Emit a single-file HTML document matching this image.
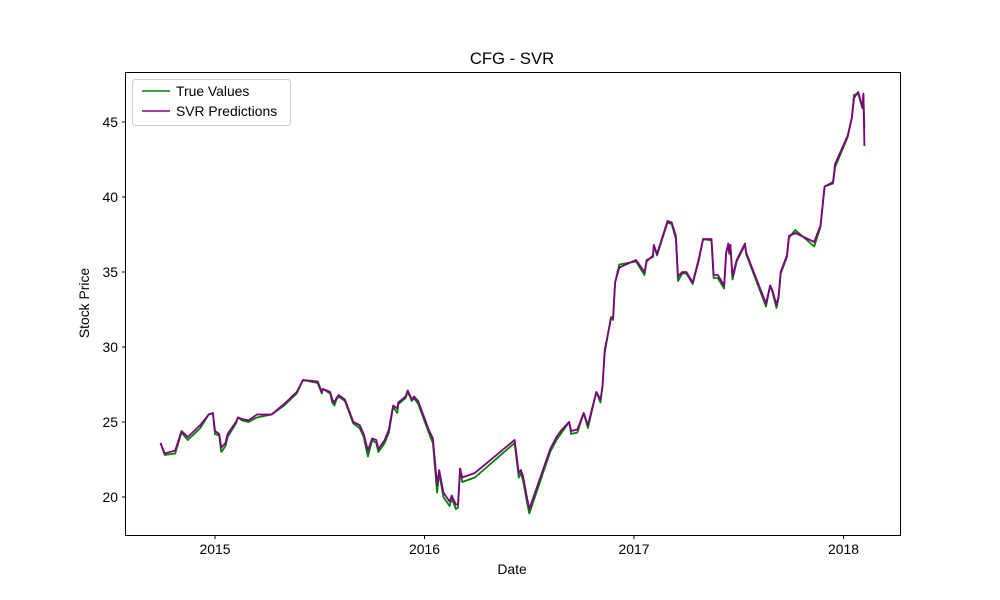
<!DOCTYPE html>
<html><head><meta charset="utf-8"><style>
body{margin:0;background:#fff;}
svg{display:block;font-family:"Liberation Sans","DejaVu Sans",sans-serif;}
</style></head><body>
<svg id="chart" width="1000" height="600">
<rect x="0" y="0" width="1000" height="600" fill="#fff"/>
<text x="512" y="64" font-size="16.7" text-anchor="middle">CFG - SVR</text>
<text x="512" y="574" font-size="13.9" text-anchor="middle">Date</text>
<text x="89" y="303" font-size="13.9" text-anchor="middle" transform="rotate(-90 89 303)">Stock Price</text>
<g id="plot"></g>
<rect x="125.5" y="72.5" width="775" height="463" fill="none" stroke="#000" stroke-width="1"/>
<g>
<rect x="132.5" y="79.5" width="158" height="46" rx="3" fill="#fff" fill-opacity="0.8" stroke="#ccc"/>
<g><line x1="142" y1="91" x2="170" y2="91" stroke="green" stroke-width="1.5"/><text x="176" y="96" font-size="13.9">True Values</text></g>
<g><line x1="142" y1="111" x2="170" y2="111" stroke="purple" stroke-width="1.5"/><text x="176" y="116" font-size="13.9">SVR Predictions</text></g>
</g>
</svg>
<script>
const dates=[2014.74,2014.76,2014.81,2014.84,2014.87,2014.90,2014.93,2014.97,2014.99,2015.00,2015.02,2015.03,2015.05,2015.06,2015.10,2015.11,2015.13,2015.16,2015.20,2015.27,2015.33,2015.39,2015.42,2015.49,2015.51,2015.515,2015.55,2015.56,2015.57,2015.58,2015.59,2015.62,2015.66,2015.69,2015.71,2015.73,2015.75,2015.77,2015.78,2015.81,2015.83,2015.85,2015.87,2015.875,2015.91,2015.92,2015.94,2015.95,2015.97,2016.02,2016.04,2016.06,2016.07,2016.09,2016.12,2016.13,2016.15,2016.16,2016.17,2016.18,2016.24,2016.43,2016.45,2016.46,2016.47,2016.49,2016.50,2016.60,2016.63,2016.65,2016.69,2016.70,2016.73,2016.76,2016.78,2016.82,2016.84,2016.85,2016.86,2016.89,2016.90,2016.91,2016.93,2017.01,2017.05,2017.06,2017.09,2017.095,2017.11,2017.16,2017.18,2017.20,2017.21,2017.23,2017.25,2017.28,2017.31,2017.33,2017.37,2017.38,2017.40,2017.43,2017.44,2017.45,2017.455,2017.46,2017.47,2017.49,2017.53,2017.535,2017.63,2017.65,2017.66,2017.68,2017.69,2017.70,2017.73,2017.74,2017.77,2017.86,2017.89,2017.91,2017.95,2017.96,2018.02,2018.04,2018.05,2018.07,2018.09,2018.095,2018.10];
const trueVals=[23.6,22.8,22.9,24.3,23.8,24.2,24.6,25.5,25.6,24.2,24.1,23.0,23.4,24.0,24.9,25.3,25.1,25.0,25.3,25.5,26.1,26.9,27.8,27.6,26.9,27.2,26.9,26.3,26.1,26.5,26.7,26.4,24.9,24.6,24.0,22.7,23.8,23.6,23.0,23.6,24.3,26.0,25.6,26.2,26.6,27.0,26.4,26.6,26.2,24.3,23.6,20.3,21.6,20.0,19.4,19.9,19.2,19.3,21.9,21.0,21.3,23.6,21.3,21.6,21.1,19.6,18.9,23.0,23.8,24.2,25.0,24.2,24.3,25.6,24.6,27.0,26.3,27.5,29.6,32.0,31.8,34.3,35.5,35.7,34.8,35.8,36.0,36.8,36.1,38.3,38.2,37.2,34.4,34.9,34.9,34.2,35.8,37.2,37.1,34.6,34.6,33.9,36.3,36.8,36.2,36.8,34.5,35.7,36.8,36.2,32.7,34.1,33.7,32.6,33.3,34.9,36.0,37.3,37.8,36.7,38.0,40.7,40.9,42.0,44.0,45.3,46.8,46.9,45.9,46.8,44.6];
const svrVals=[23.6,22.9,23.1,24.4,24.0,24.4,24.8,25.5,25.6,24.4,24.2,23.3,23.6,24.2,25.0,25.3,25.2,25.1,25.5,25.5,26.2,27.0,27.8,27.7,27.0,27.2,27.0,26.5,26.3,26.6,26.8,26.5,25.0,24.8,24.2,23.1,23.9,23.8,23.2,23.8,24.5,26.1,25.9,26.3,26.7,27.1,26.5,26.7,26.4,24.5,23.9,20.8,21.8,20.3,19.7,20.1,19.5,19.5,21.9,21.3,21.6,23.8,21.6,21.8,21.4,19.9,19.2,23.2,24.0,24.4,25.0,24.4,24.5,25.6,24.8,27.0,26.5,27.4,29.8,31.9,32.0,34.3,35.3,35.8,35.0,35.7,36.1,36.8,36.2,38.4,38.3,37.4,34.7,35.0,35.0,34.3,35.9,37.2,37.2,34.8,34.8,34.1,36.3,36.9,36.3,36.8,34.7,35.8,36.9,36.3,32.9,34.1,33.8,32.8,33.4,35.0,36.1,37.4,37.6,37.0,38.1,40.7,41.0,42.2,44.1,45.3,46.6,47.0,46.0,46.9,43.4];
const xTicks=[2015,2016,2017,2018];
const yTicks=[20,25,30,35,40,45];

const NS='http://www.w3.org/2000/svg';
function xs(d){return 215+(d-2015)*209.5;}
function ys(v){return 497-(v-20)*15;}
const plot=document.getElementById('plot');
xTicks.forEach(t=>{
  const g=document.createElementNS(NS,'g');
  
  
  const x=xs(t);
  g.innerHTML=`<line x1="${x}" y1="535.5" x2="${x}" y2="539" stroke="#000"/><text x="${x}" y="554" font-size="13.9" text-anchor="middle">${t}</text>`;
  plot.appendChild(g);
});
yTicks.forEach(t=>{
  const g=document.createElementNS(NS,'g');
  
  
  const y=ys(t);
  g.innerHTML=`<line x1="122" y1="${y}" x2="125.5" y2="${y}" stroke="#000"/><text x="118" y="${y+5}" font-size="13.9" text-anchor="end">${t}</text>`;
  plot.appendChild(g);
});
function line(vals,color,name){
  const p=document.createElementNS(NS,'polyline');
  p.setAttribute('points',vals.map((v,i)=>xs(dates[i]).toFixed(1)+','+ys(v).toFixed(1)).join(' '));
  p.setAttribute('fill','none');
  p.setAttribute('stroke',color);
  p.setAttribute('stroke-width','1.8');
  p.setAttribute('stroke-linejoin','round');
  
  
  plot.appendChild(p);
}
line(trueVals,'green','true-values-line');
line(svrVals,'purple','svr-predictions-line');
</script>
</body></html>
